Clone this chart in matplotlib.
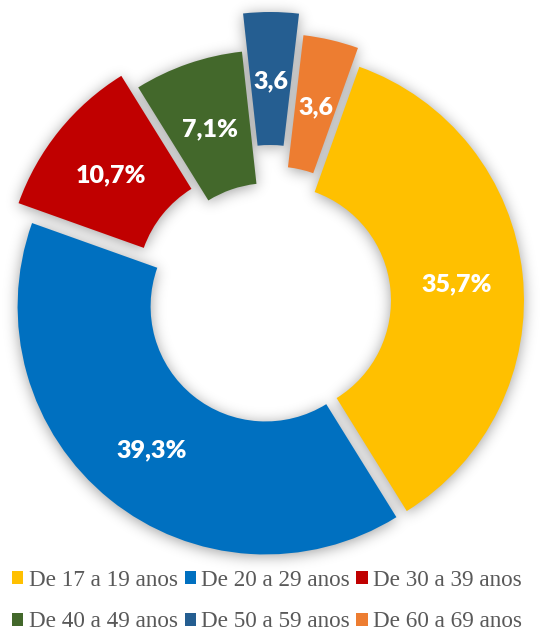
import numpy as np
import matplotlib.pyplot as plt
from matplotlib.patches import Patch

categories = ["De 17 a 19 anos", "De 20 a 29 anos", "De 30 a 39 anos",
              "De 40 a 49 anos", "De 50 a 59 anos", "De 60 a 69 anos"]
shares = [35.7, 39.3, 10.7, 7.1, 3.6, 3.6]
share_labels = ["35,7%", "39,3%", "10,7%", "7,1%", "3,6", "3,6"]
colors = ["#FFC000", "#0070C0", "#C00000", "#43682B", "#255E91", "#ED7D31"]

W, H = 542, 633
center = (270, H - 301)
radius = 248
ring = 133
explode = [6, 7, 23, 3, 41, 20]  # px, each slice pulled out by a different amount


def gauss_blur(img, sigma):
    k = np.arange(-int(3 * sigma), int(3 * sigma) + 1)
    kern = np.exp(-k ** 2 / (2 * sigma ** 2))
    kern /= kern.sum()
    img = np.apply_along_axis(lambda v: np.convolve(v, kern, mode="same"), 0, img)
    img = np.apply_along_axis(lambda v: np.convolve(v, kern, mode="same"), 1, img)
    return img


fig = plt.figure(figsize=(W / 100, H / 100), dpi=100)
ax = fig.add_axes([0, 0, 1, 1])

wedges, _, pct_texts = ax.pie(
    shares, colors=colors, explode=explode, radius=radius, center=center,
    startangle=90 - 19.65, counterclock=False, autopct="%1.1f",
    pctdistance=(radius - ring / 2) / radius,
    wedgeprops=dict(width=ring, linewidth=0, zorder=2),
)
for t, lab in zip(pct_texts, share_labels):
    t.set_text(lab)
    t.set_color("white")
    t.set_fontfamily("Lato")
    t.set_fontweight("heavy")
    t.set_fontsize(18)
    t.set_zorder(3)
    x, y = t.get_position()
    t.set_position((x, y - 3))

# soft shadow under the ring
yy, xx = np.mgrid[0:H, 0:W] + 0.5
mask = np.zeros((H, W))
for w in wedges:
    dx = xx - w.center[0]
    dy = yy - w.center[1] + 2
    rho = np.hypot(dx, dy)
    ang = (np.degrees(np.arctan2(dy, dx)) - w.theta1) % 360
    inside = (rho <= w.r) & (rho >= w.r - w.width) & (ang <= (w.theta2 - w.theta1) % 360)
    mask[inside] = 1
shade = gauss_blur(mask, 7)
rgba = np.zeros((H, W, 4))
rgba[..., 3] = 0.38 * shade
ax.imshow(rgba, extent=(0, W, 0, H), origin="lower", zorder=0, interpolation="bilinear")

ax.set_xlim(0, W)
ax.set_ylim(0, H)
ax.axis("off")

handles = [Patch(facecolor=c, edgecolor="none") for c in colors]
order = [0, 3, 1, 4, 2, 5]
fig.legend([handles[i] for i in order], [categories[i] for i in order],
           loc="center", bbox_to_anchor=(267 / W, 1 - 601 / H), ncol=3, frameon=False,
           prop=dict(family="Liberation Serif", size=16.7), labelcolor="#595959",
           handlelength=0.48, handleheight=0.48, handletextpad=0.22,
           columnspacing=0.3, labelspacing=0.9, borderpad=0)

fig.savefig("out.png", dpi=100)
